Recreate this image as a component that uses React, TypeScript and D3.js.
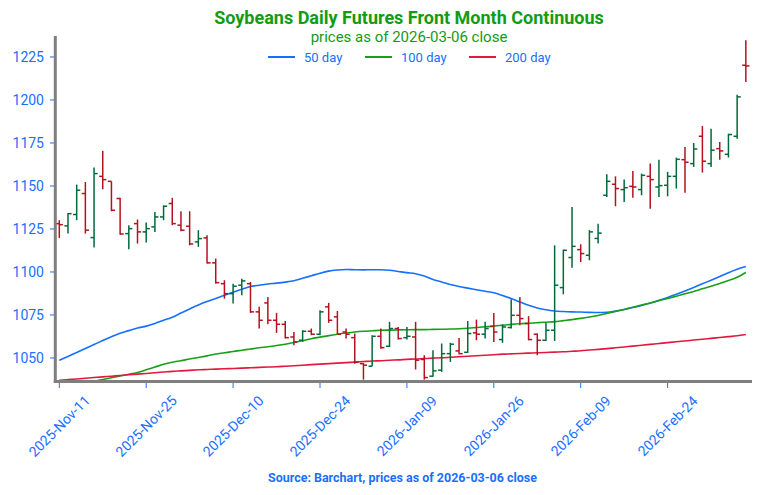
import React from "react";
import * as d3 from "d3";

const W = 759;
const H = 495;

const opens = [
  1128.1, 1126.8, 1133.4, 1145.6, 1120.0, 1155.6, 1152.7, 1142.7, 1122.3, 1128.1,
  1123.3, 1126.2, 1132.0, 1139.8, 1127.2, 1126.6, 1117.5, 1119.8, 1105.3, 1093.2,
  1087.4, 1092.3, 1093.2, 1076.8, 1082.0, 1071.9, 1069.6, 1062.2, 1060.3, 1065.5,
  1063.8, 1079.7, 1073.9, 1065.1, 1061.8, 1046.7, 1045.2, 1062.6, 1056.8, 1067.1,
  1061.8, 1062.2, 1049.1, 1039.4, 1042.9, 1052.5, 1054.1, 1053.3, 1064.6, 1063.8,
  1068.4, 1060.7, 1067.7, 1074.8, 1070.0, 1063.8, 1060.3, 1066.1, 1090.9, 1108.4,
  1113.0, 1109.7, 1119.5, 1144.6, 1151.0, 1147.9, 1149.8, 1147.9, 1155.6, 1149.4,
  1150.4, 1155.6, 1165.3, 1163.0, 1178.9, 1163.0, 1171.7, 1168.4, 1178.9, 1220.2,
];
const highs = [
  1130.1, 1134.3, 1150.8, 1152.3, 1160.7, 1170.4, 1152.7, 1143.1, 1127.2, 1130.5,
  1128.7, 1134.9, 1138.8, 1143.1, 1135.3, 1135.3, 1124.3, 1121.3, 1107.8, 1095.2,
  1093.2, 1096.1, 1094.2, 1079.7, 1085.5, 1076.2, 1071.5, 1065.1, 1066.1, 1067.1,
  1077.7, 1082.0, 1077.3, 1067.1, 1064.2, 1047.1, 1063.2, 1067.1, 1071.0, 1068.0,
  1068.0, 1071.0, 1051.6, 1054.5, 1058.4, 1058.8, 1061.6, 1071.5, 1072.3, 1071.0,
  1076.2, 1069.6, 1084.1, 1085.5, 1074.3, 1064.2, 1070.4, 1115.5, 1113.0, 1137.8,
  1116.1, 1124.3, 1128.0, 1156.8, 1155.6, 1153.7, 1158.7, 1157.2, 1163.0, 1165.3,
  1158.2, 1166.5, 1172.7, 1175.0, 1184.9, 1183.3, 1175.6, 1180.4, 1203.1, 1234.7,
];
const lows = [
  1119.8, 1122.3, 1130.1, 1122.3, 1114.2, 1148.1, 1135.3, 1121.7, 1113.2, 1116.5,
  1117.1, 1123.3, 1130.1, 1127.2, 1123.7, 1115.5, 1114.6, 1104.9, 1093.2, 1084.5,
  1081.6, 1086.5, 1076.2, 1067.1, 1069.6, 1064.6, 1061.3, 1057.4, 1059.3, 1063.2,
  1063.2, 1070.4, 1063.8, 1061.3, 1046.7, 1037.4, 1045.2, 1055.4, 1056.4, 1060.7,
  1060.7, 1043.3, 1037.4, 1039.0, 1041.9, 1047.7, 1052.2, 1052.9, 1060.3, 1061.3,
  1059.3, 1058.8, 1067.1, 1069.0, 1060.3, 1051.6, 1059.9, 1059.9, 1087.0, 1102.5,
  1105.8, 1106.8, 1116.5, 1143.6, 1138.2, 1140.7, 1143.2, 1144.6, 1136.8, 1143.6,
  1144.0, 1148.5, 1146.1, 1161.1, 1157.8, 1161.1, 1165.3, 1166.5, 1177.5, 1210.5,
];
const closes = [
  1127.5, 1133.9, 1147.5, 1124.3, 1157.2, 1153.7, 1135.9, 1122.1, 1125.2, 1123.3,
  1125.2, 1132.0, 1138.2, 1128.1, 1124.3, 1116.3, 1119.4, 1105.3, 1093.8, 1087.4,
  1091.7, 1094.8, 1076.8, 1071.9, 1071.9, 1069.6, 1061.8, 1059.3, 1065.5, 1063.8,
  1076.8, 1071.9, 1063.8, 1063.8, 1047.5, 1045.8, 1062.6, 1056.0, 1067.1, 1061.3,
  1062.6, 1048.7, 1038.6, 1042.5, 1052.5, 1058.0, 1052.5, 1064.2, 1063.8, 1067.1,
  1065.1, 1068.0, 1074.8, 1072.9, 1060.7, 1060.3, 1066.1, 1092.3, 1112.6, 1114.9,
  1110.7, 1123.3, 1122.6, 1152.7, 1148.5, 1149.0, 1149.4, 1156.2, 1153.7, 1150.2,
  1155.6, 1165.5, 1163.8, 1171.5, 1164.4, 1170.8, 1170.4, 1179.9, 1201.8, 1219.8,
];

const ma50 = [
  1048.6, 1050.8, 1053.2, 1055.5, 1057.8, 1060.1, 1062.3, 1064.4, 1065.9, 1067.4,
  1068.5, 1070.1, 1071.9, 1073.7, 1076.1, 1078.5, 1080.8, 1082.8, 1084.6, 1086.4,
  1088.2, 1090.0, 1091.5, 1092.3, 1093.0, 1093.5, 1094.1, 1094.9, 1096.3, 1097.8,
  1099.3, 1100.5, 1101.1, 1101.4, 1101.3, 1101.2, 1101.3, 1101.3, 1101.0, 1100.3,
  1099.6, 1099.0, 1097.6, 1095.6, 1094.2, 1092.7, 1091.5, 1090.6, 1089.7, 1088.8,
  1087.9, 1086.3, 1084.5, 1082.6, 1080.6, 1079.1, 1078.0, 1077.3, 1077.0, 1076.8,
  1076.7, 1076.5, 1076.4, 1076.6, 1077.3, 1078.2, 1079.3, 1080.5, 1081.9, 1083.5,
  1085.2, 1087.1, 1089.0, 1091.0, 1093.1, 1095.2, 1097.4, 1099.6, 1101.6, 1103.2,
];
const ma100 = [
  1032.5, 1033.5, 1034.6, 1035.6, 1036.5, 1037.5, 1038.5, 1039.5, 1040.5, 1041.6,
  1043.1, 1044.7, 1046.3, 1047.5, 1048.4, 1049.4, 1050.3, 1051.2, 1052.3, 1053.0,
  1053.8, 1054.5, 1055.2, 1055.9, 1056.5, 1057.2, 1058.0, 1059.0, 1060.1, 1061.2,
  1062.1, 1063.0, 1063.8, 1064.5, 1065.1, 1065.5, 1065.8, 1066.1, 1066.2, 1066.3,
  1066.4, 1066.5, 1066.5, 1066.6, 1066.7, 1066.8, 1067.0, 1067.3, 1067.7, 1068.1,
  1068.5, 1069.0, 1069.5, 1069.9, 1070.2, 1070.5, 1070.8, 1071.1, 1071.7, 1072.3,
  1073.0, 1073.8, 1074.7, 1075.9, 1077.0, 1078.2, 1079.5, 1080.8, 1082.0, 1083.3,
  1084.6, 1085.9, 1087.3, 1088.7, 1090.2, 1091.7, 1093.3, 1095.0, 1096.9, 1099.7,
];
const ma200 = [
  1037.0, 1037.4, 1037.8, 1038.2, 1038.6, 1039.0, 1039.4, 1039.8, 1040.2, 1040.6,
  1041.0, 1041.4, 1041.8, 1042.2, 1042.5, 1042.8, 1043.1, 1043.3, 1043.5, 1043.7,
  1043.9, 1044.1, 1044.3, 1044.5, 1044.7, 1044.9, 1045.2, 1045.5, 1045.8, 1046.1,
  1046.4, 1046.7, 1047.0, 1047.3, 1047.6, 1047.9, 1048.2, 1048.4, 1048.7, 1048.9,
  1049.2, 1049.4, 1049.7, 1049.9, 1050.1, 1050.4, 1050.7, 1051.0, 1051.3, 1051.6,
  1051.9, 1052.2, 1052.4, 1052.6, 1052.8, 1053.0, 1053.2, 1053.4, 1053.6, 1053.9,
  1054.2, 1054.6, 1055.0, 1055.4, 1055.9, 1056.4, 1056.9, 1057.4, 1057.9, 1058.4,
  1058.9, 1059.4, 1059.9, 1060.4, 1060.9, 1061.4, 1061.9, 1062.4, 1062.9, 1063.6,
];

const yTicks = [1050, 1075, 1100, 1125, 1150, 1175, 1200, 1225];
const xTickIdx = [0, 10, 20, 30, 40, 50, 60, 70];
const xTickLabels = [
  "2025-Nov-11", "2025-Nov-25", "2025-Dec-10", "2025-Dec-24",
  "2026-Jan-09", "2026-Jan-26", "2026-Feb-09", "2026-Feb-24",
];
const legendNames = ["50 day", "100 day", "200 day"];

const TITLE_GREEN = "#129c12";
const TEXT_BLUE = "#1a6fff";
const UP = "#006a3a";
const DOWN = "#b3121f";
const MA_COLORS = ["#1470ff", "#17a017", "#e3183e"];
const FONT = "Roboto, 'Noto Sans', sans-serif";

export default function App() {
  const left = 55.3, right = 752, top = 36, bottom = 381;
  const x = d3.scaleLinear().domain([-0.46, 79.71]).range([left, right]);
  const y = d3.scaleLinear().domain([1036.6, 1237.2]).range([bottom, top]);
  const idx = d3.range(opens.length);
  const line = d3
    .line<number>()
    .x((_, i) => x(i))
    .y((d) => y(d))
    .curve(d3.curveMonotoneX);
  const mas = [ma50, ma100, ma200];
  const tk = 3.6;
  const legendX = [268, 365, 469];

  return (
    <div style={{ position: "fixed", left: 0, top: 0 }}>
      <svg width={W} height={H} style={{ display: "block", fontFamily: FONT }}>
        <rect width={W} height={H} fill="#ffffff" />
        <defs>
          <clipPath id="plotclip">
            <rect x={left} y={top} width={right - left} height={bottom - top} />
          </clipPath>
        </defs>
        <text x={409} y={24} textAnchor="middle" fontSize={18} fontWeight="bold" fill={TITLE_GREEN}>
          Soybeans Daily Futures Front Month Continuous
        </text>
        <text x={409} y={41.5} textAnchor="middle" fontSize={15} fill={TITLE_GREEN}>
          prices as of 2026-03-06 close
        </text>
        {legendNames.map((n, i) => (
          <g key={n}>
            <line x1={legendX[i]} x2={legendX[i] + 27} y1={57} y2={57} stroke={MA_COLORS[i]} strokeWidth={2} />
            <text x={legendX[i] + 36} y={57} dominantBaseline="central" fontSize={13} fill={TEXT_BLUE}>
              {n}
            </text>
          </g>
        ))}
        <g clipPath="url(#plotclip)">
          {mas.map((m, i) => (
            <path key={i} d={line(m) || ""} fill="none" stroke={MA_COLORS[i]} strokeWidth={1.6} />
          ))}
        </g>
        {idx.map((i) => {
          const col = closes[i] >= opens[i] ? UP : DOWN;
          const cx = x(i);
          return (
            <g key={i} stroke={col} strokeWidth={1.5}>
              <line x1={cx} x2={cx} y1={y(highs[i])} y2={y(lows[i])} />
              <line x1={cx - tk} x2={cx} y1={y(opens[i])} y2={y(opens[i])} />
              <line x1={cx} x2={cx + tk} y1={y(closes[i])} y2={y(closes[i])} />
            </g>
          );
        })}
        {yTicks.map((t) => (
          <g key={t}>
            <line x1={50} x2={left} y1={y(t)} y2={y(t)} stroke={TEXT_BLUE} strokeWidth={1} />
            <text x={44} y={y(t)} textAnchor="end" dominantBaseline="central" fontSize={14} fill={TEXT_BLUE}>
              {t}
            </text>
          </g>
        ))}
        {xTickIdx.map((t, k) => (
          <g key={t}>
            <line x1={x(t)} x2={x(t)} y1={383} y2={388} stroke={TEXT_BLUE} strokeWidth={1} />
            <text
              transform={`translate(${x(t)},426) rotate(-45)`}
              textAnchor="middle"
              dominantBaseline="central"
              fontSize={14}
              fill={TEXT_BLUE}
            >
              {xTickLabels[k]}
            </text>
          </g>
        ))}
        <line x1={left} x2={left} y1={top} y2={bottom + 1.5} stroke="#7f7f7f" strokeWidth={3} />
        <line x1={left - 1.5} x2={right} y1={bottom + 0.5} y2={bottom + 0.5} stroke="#7f7f7f" strokeWidth={3} />
        <text
          x={402.5}
          y={478}
          textAnchor="middle"
          dominantBaseline="central"
          fontSize={12}
          fontWeight="bold"
          fill={TEXT_BLUE}
          textLength={269}
          lengthAdjust="spacingAndGlyphs"
        >
          Source: Barchart, prices as of 2026-03-06 close
        </text>
      </svg>
    </div>
  );
}
